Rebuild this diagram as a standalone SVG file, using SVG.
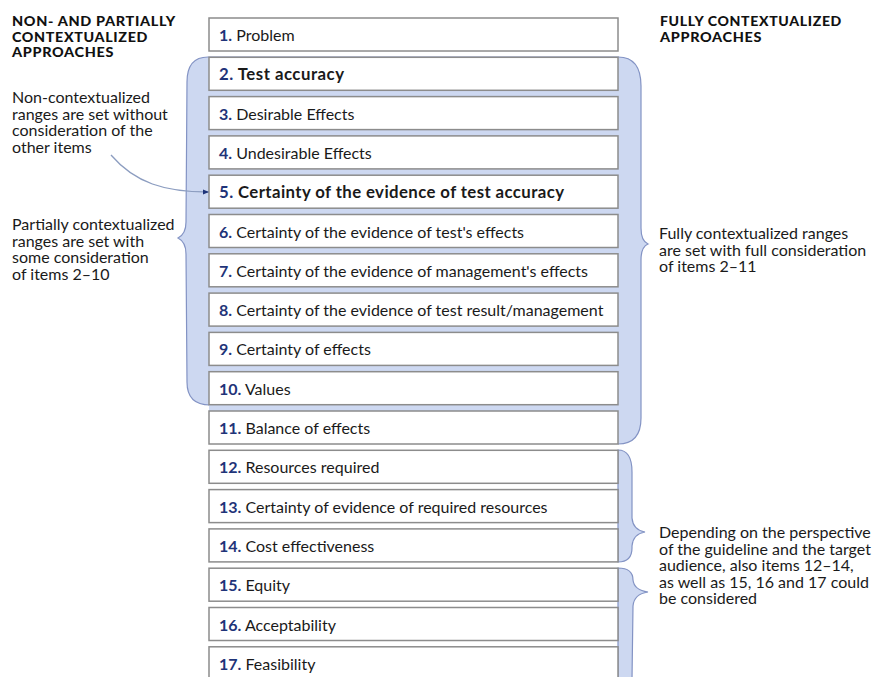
<svg xmlns="http://www.w3.org/2000/svg" width="873" height="677" viewBox="0 0 873 677">
<defs>
<style>
.box{fill:#fff;stroke:#8c8c8c;stroke-width:1.5}
.brace{fill:#cdd8f1;stroke:#8393c4;stroke-width:1.2}
.bracefill{fill:#cdd8f1;stroke:none}
.braceline{fill:none;stroke:#8393c4;stroke-width:1.2}
.t{font-family:Lato,"Open Sans",sans-serif;font-size:16px;fill:#1a1a1a}
.n{font-weight:700;fill:#1f3479}
.b{font-weight:700;font-size:16.8px}
.hd{font-family:Lato,"DejaVu Sans",sans-serif;font-size:13px;font-weight:900;fill:#111;letter-spacing:0.6px}
.ann{font-family:Lato,"Open Sans",sans-serif;font-size:16px;fill:#1a1a1a}
.conn{fill:none;stroke:#8c9dc0;stroke-width:1.3}
</style>
<marker id="ah" viewBox="0 0 6 6" refX="5" refY="3" markerWidth="6" markerHeight="6" orient="auto" markerUnits="userSpaceOnUse">
<path d="M0 0.5 L6 3 L0 5.5 Z" fill="#1f3479"/>
</marker>
</defs>

<g id="braces">
<path class="brace" d="M618 57 L208 57 Q187 57 187 82 L186 222 Q186 234 178 238 Q186 242 186 254 L187 382 Q187 405 210 405 L618 405 Z"/>
<path class="bracefill" d="M209 57 L619 57 Q641 57 641 86 L641 228 Q641 241 648 244 Q641 247 641 260 L641 418 Q641 444 618 444 L209 444 Z"/>
<path class="braceline" d="M618 57 Q641 57 641 86 L641 228 Q641 241 648 244 Q641 247 641 260 L641 418 Q641 444 618 444"/>
<path class="brace" d="M618 450 Q632 450 632 472 L632 518 Q633 530 645 532 Q633 534 632 546 L632 548 Q632 562 618 562 Z"/>
<path class="brace" d="M618 568 Q633 568 633 580 Q634 590 648 592 Q634 594 633 606 L632 680 L618 680 Z"/>
</g>

<g id="node1"><rect class="box" x="209" y="18" width="409" height="33"/><text class="t" x="219" y="41"><tspan class="n">1.</tspan> Problem</text></g>
<g id="node2"><rect class="box" x="209" y="57.3" width="409" height="33"/><text class="t b" x="219" y="80.3" textLength="125" lengthAdjust="spacing"><tspan class="n">2.</tspan> Test accuracy</text></g>
<g id="node3"><rect class="box" x="209" y="96.6" width="409" height="33"/><text class="t" x="219" y="119.6"><tspan class="n">3.</tspan> Desirable Effects</text></g>
<g id="node4"><rect class="box" x="209" y="135.9" width="409" height="33"/><text class="t" x="219" y="158.9"><tspan class="n">4.</tspan> Undesirable Effects</text></g>
<g id="node5"><rect class="box" x="209" y="175.2" width="409" height="33"/><text class="t b" x="219" y="198.2" textLength="345" lengthAdjust="spacing"><tspan class="n">5.</tspan> Certainty of the evidence of test accuracy</text></g>
<g id="node6"><rect class="box" x="209" y="214.5" width="409" height="33"/><text class="t" x="219" y="237.5"><tspan class="n">6.</tspan> Certainty of the evidence of test's effects</text></g>
<g id="node7"><rect class="box" x="209" y="253.8" width="409" height="33"/><text class="t" x="219" y="276.8"><tspan class="n">7.</tspan> Certainty of the evidence of management's effects</text></g>
<g id="node8"><rect class="box" x="209" y="293.1" width="409" height="33"/><text class="t" x="219" y="316.1"><tspan class="n">8.</tspan> Certainty of the evidence of test result/management</text></g>
<g id="node9"><rect class="box" x="209" y="332.4" width="409" height="33"/><text class="t" x="219" y="355.4"><tspan class="n">9.</tspan> Certainty of effects</text></g>
<g id="node10"><rect class="box" x="209" y="371.7" width="409" height="33"/><text class="t" x="219" y="394.7"><tspan class="n">10.</tspan> Values</text></g>
<g id="node11"><rect class="box" x="209" y="411" width="409" height="33"/><text class="t" x="219" y="434"><tspan class="n">11.</tspan> Balance of effects</text></g>
<g id="node12"><rect class="box" x="209" y="450.3" width="409" height="33"/><text class="t" x="219" y="473.3"><tspan class="n">12.</tspan> Resources required</text></g>
<g id="node13"><rect class="box" x="209" y="489.6" width="409" height="33"/><text class="t" x="219" y="512.6"><tspan class="n">13.</tspan> Certainty of evidence of required resources</text></g>
<g id="node14"><rect class="box" x="209" y="528.9" width="409" height="33"/><text class="t" x="219" y="551.9"><tspan class="n">14.</tspan> Cost effectiveness</text></g>
<g id="node15"><rect class="box" x="209" y="568.2" width="409" height="33"/><text class="t" x="219" y="591.2"><tspan class="n">15.</tspan> Equity</text></g>
<g id="node16"><rect class="box" x="209" y="607.5" width="409" height="33"/><text class="t" x="219" y="630.5"><tspan class="n">16.</tspan> Acceptability</text></g>
<g id="node17"><rect class="box" x="209" y="646.8" width="409" height="33"/><text class="t" x="219" y="669.8"><tspan class="n">17.</tspan> Feasibility</text></g>

<g id="connectors">
<path class="conn" d="M111 155 C135 183 165 192 208 192" marker-end="url(#ah)"/>
</g>

<g id="header-left">
<text class="hd" x="12" y="26" textLength="164" lengthAdjust="spacingAndGlyphs">NON- AND PARTIALLY</text>
<text class="hd" x="12" y="41.5" textLength="136" lengthAdjust="spacingAndGlyphs">CONTEXTUALIZED</text>
<text class="hd" x="12" y="57" textLength="102" lengthAdjust="spacingAndGlyphs">APPROACHES</text>
</g>
<g id="header-right">
<text class="hd" x="660" y="26" textLength="182" lengthAdjust="spacingAndGlyphs">FULLY CONTEXTUALIZED</text>
<text class="hd" x="660" y="41.5" textLength="102" lengthAdjust="spacingAndGlyphs">APPROACHES</text>
</g>

<g id="note-noncontext">
<text class="ann" x="12" y="103"><tspan x="12" y="103">Non-contextualized</tspan><tspan x="12" y="119.5">ranges are set without</tspan><tspan x="12" y="136">consideration of the</tspan><tspan x="12" y="152.5">other items</tspan></text>
</g>
<g id="note-partial">
<text class="ann" x="12" y="230"><tspan x="12" y="230">Partially contextualized</tspan><tspan x="12" y="246.5">ranges are set with</tspan><tspan x="12" y="263">some consideration</tspan><tspan x="12" y="279.5">of items 2–10</tspan></text>
</g>
<g id="note-full">
<text class="ann" x="659" y="239"><tspan x="659" y="239">Fully contextualized ranges</tspan><tspan x="659" y="255.5">are set with full consideration</tspan><tspan x="659" y="272">of items 2–11</tspan></text>
</g>
<g id="note-depending">
<text class="ann" x="659" y="538"><tspan x="659" y="538">Depending on the perspective</tspan><tspan x="659" y="554.5">of the guideline and the target</tspan><tspan x="659" y="571">audience, also items 12–14,</tspan><tspan x="659" y="587.5">as well as 15, 16 and 17 could</tspan><tspan x="659" y="604">be considered</tspan></text>
</g>
</svg>
